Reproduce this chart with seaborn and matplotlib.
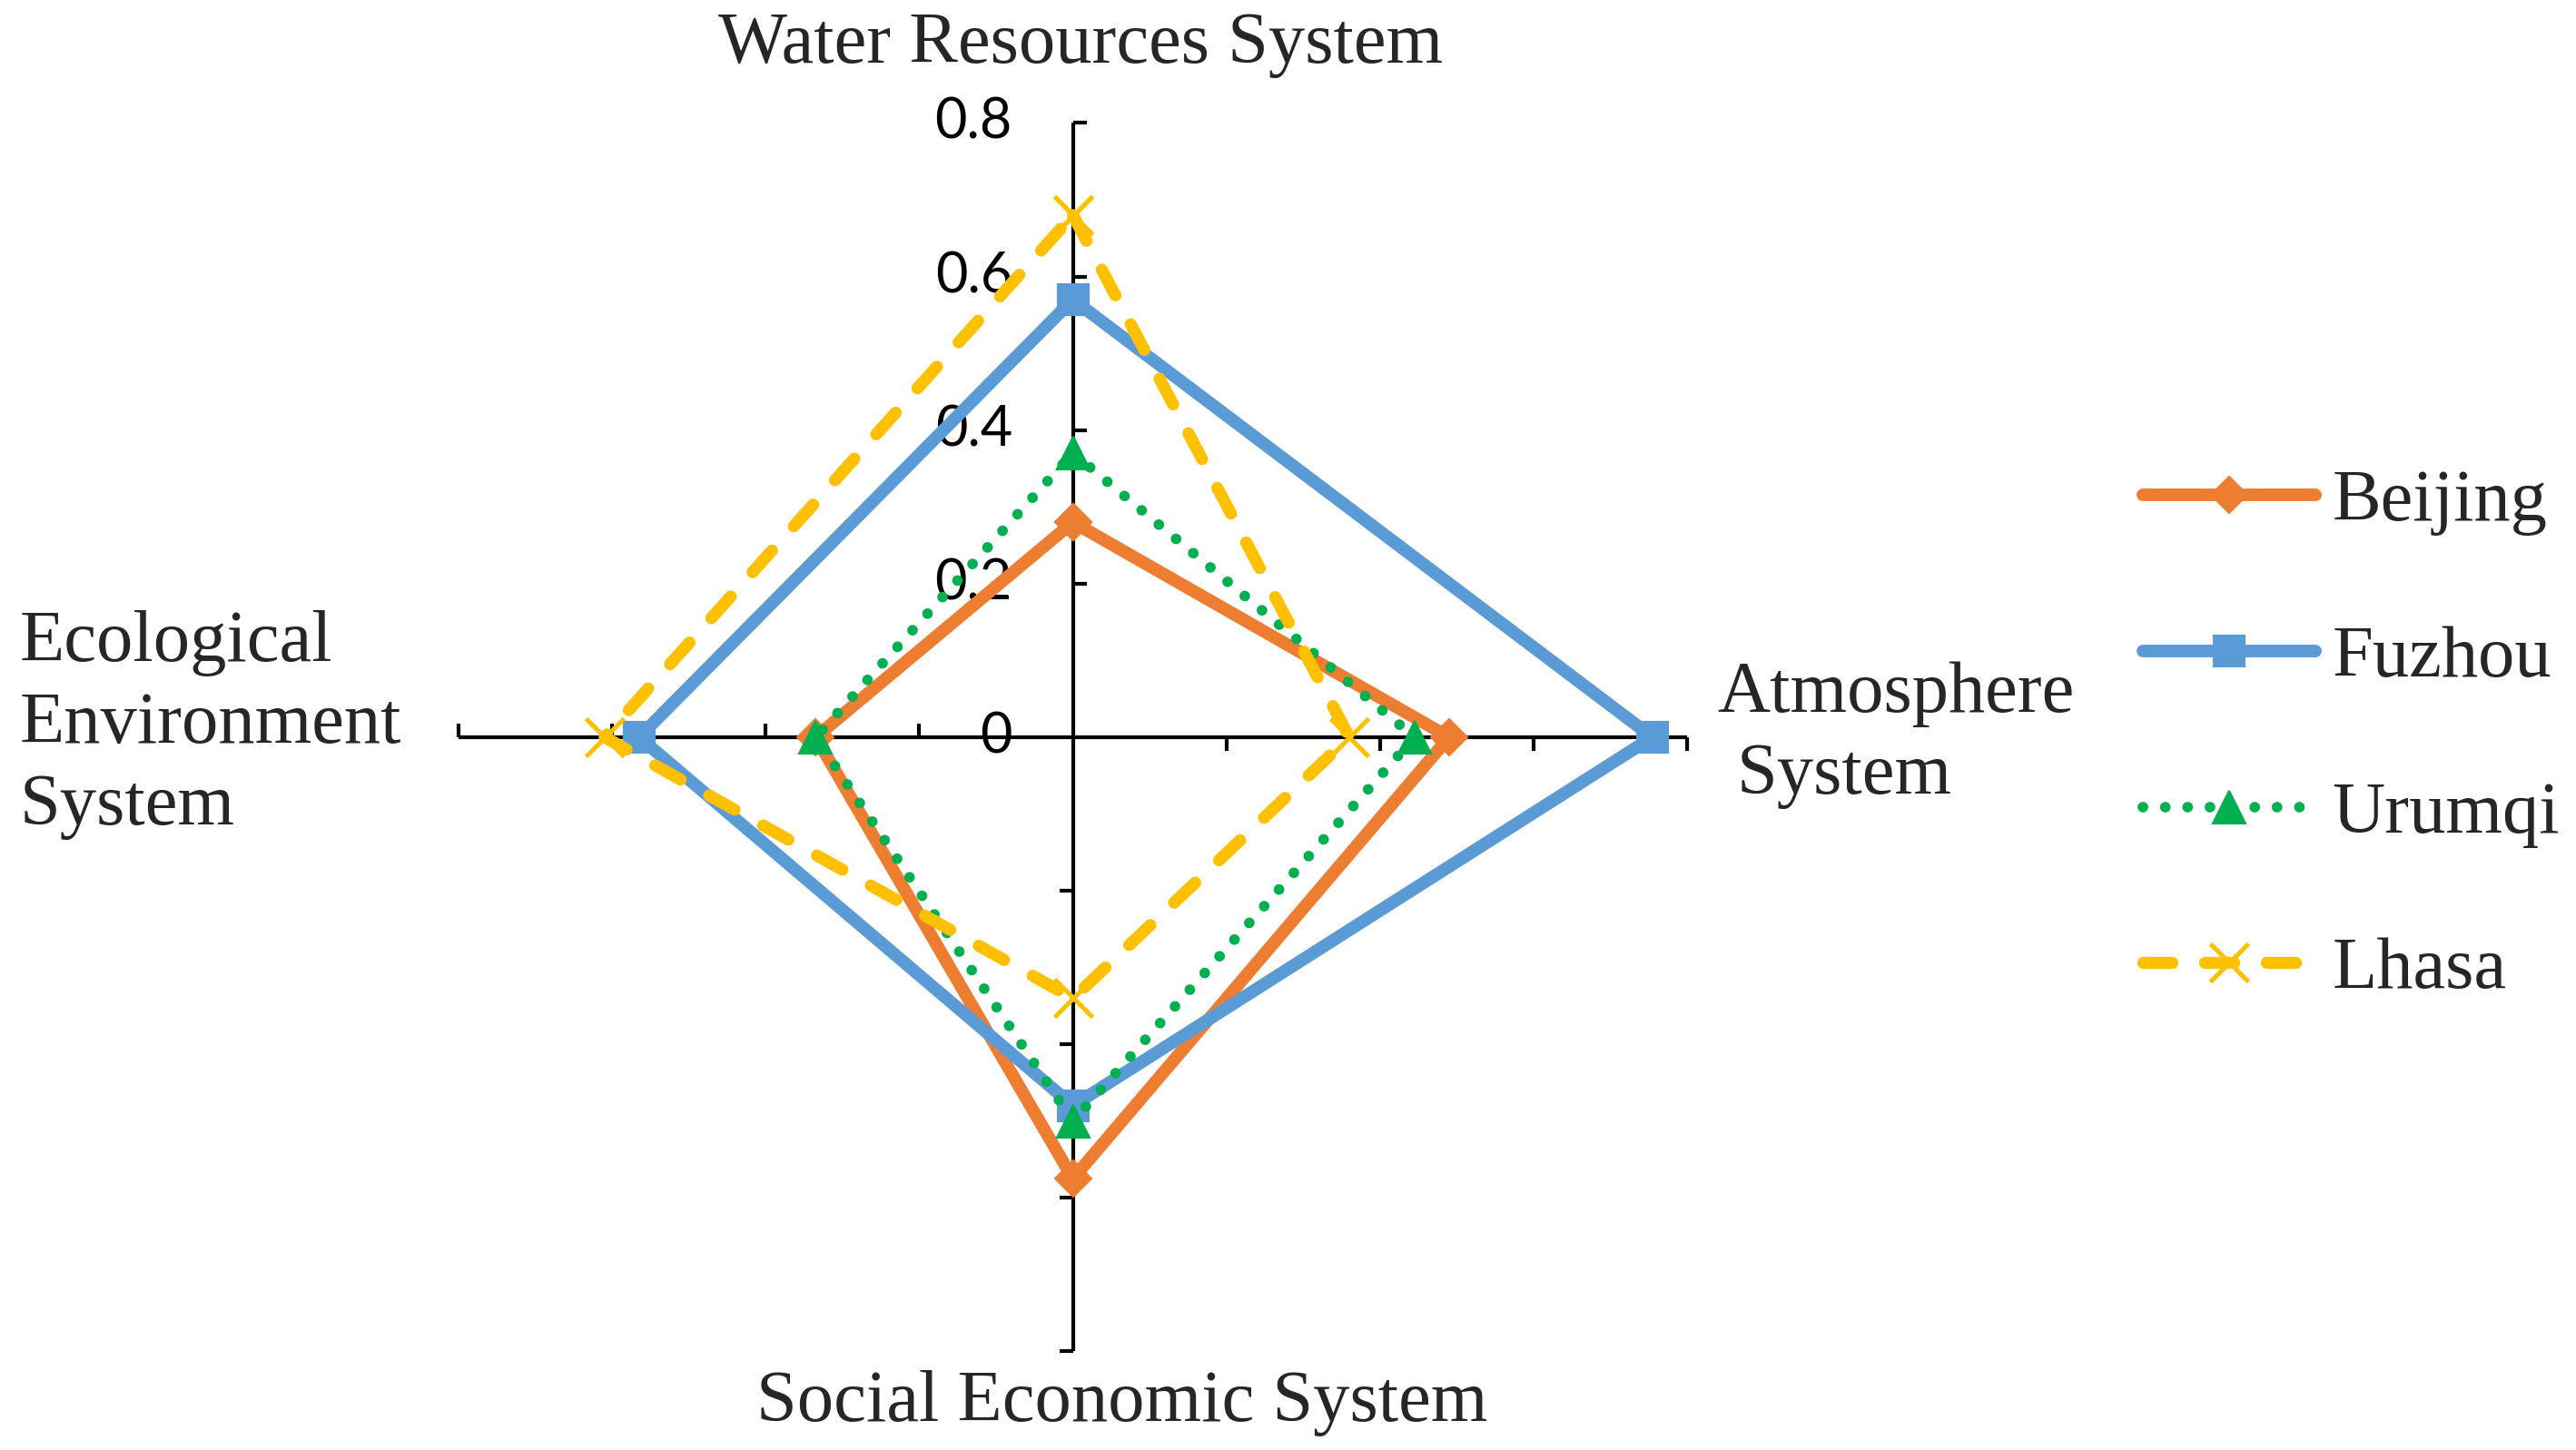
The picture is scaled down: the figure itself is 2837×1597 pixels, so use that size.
"""Radar chart of four subsystem scores for four cities."""

import matplotlib.pyplot as plt
import numpy as np
import seaborn as sns
from matplotlib.path import Path

# axes, clockwise from the top
systems = [
    "Water Resources System",
    "Atmosphere System",
    "Social Economic System",
    "Ecological Environment System",
]
cities = ["Beijing", "Fuzhou", "Urumqi", "Lhasa"]

beijing = [0.28, 0.49, 0.575, 0.335]
fuzhou = [0.57, 0.755, 0.48, 0.565]
urumqi = [0.37, 0.445, 0.50, 0.335]
lhasa = [0.68, 0.36, 0.34, 0.61]

r_ticks = [0, 0.2, 0.4, 0.6, 0.8]
r_tick_labels = ["0", "0.2", "0.4", "0.6", "0.8"]

colors = ["#ED7D31", "#5B9BD5", "#00B050", "#FFC000"]
markers = ["D", "s", "^", "x"]
marker_sizes = [10, 12, 13, 15]
line_styles = ["-", "-", (0, (0.01, 2.1)), (0, (2.4, 2.7))]
line_widths = [5.0, 5.0, 4.2, 4.8]

sns.set_theme(style="white")
serif = ["Liberation Serif", "DejaVu Serif"]

fig = plt.figure(figsize=(14.185, 7.985), dpi=200)
ax = fig.add_axes([0.178, 0.068, 0.477, 0.8472], projection="polar")
ax.set_theta_zero_location("N")
ax.set_theta_direction(-1)
ax.set_ylim(0, 0.8)
ax.grid(False)
ax.spines["polar"].set_visible(False)
ax.set_xticks([])
ax.set_yticks([])
ax.patch.set_alpha(0)

angles = np.linspace(0, 2 * np.pi, len(systems), endpoint=False)

# cross-shaped axes with one-sided tick marks (turning clockwise)
tick_dirs = [[(0, 0), (1, 0)], [(0, 0), (0, -1)], [(0, 0), (-1, 0)], [(0, 0), (0, 1)]]
for angle, tick_dir in zip(angles, tick_dirs):
    ax.plot([angle, angle], [0, r_ticks[-1]], color="black", lw=1.5, zorder=1,
            solid_capstyle="butt", clip_on=False)
    ax.plot(np.full(len(r_ticks) - 1, angle), r_ticks[1:], linestyle="none",
            marker=Path(tick_dir), markersize=10.5, markeredgewidth=1.5,
            color="black", zorder=1, clip_on=False)

for r, text in zip(r_ticks, r_tick_labels):
    ax.annotate(text, xy=(0, r), xytext=(-24, 0), textcoords="offset points",
                ha="right", va="center", fontsize=22, family="Lato",
                color="black", zorder=0, annotation_clip=False)

series = [beijing, fuzhou, urumqi, lhasa]
closed_angles = np.append(angles, 2 * np.pi)
for name, values, color, marker, ms, ls, lw in zip(
    cities, series, colors, markers, marker_sizes, line_styles, line_widths
):
    sns.lineplot(
        x=closed_angles,
        y=values + values[:1],
        sort=False,
        errorbar=None,
        ax=ax,
        color=color,
        linestyle=ls,
        linewidth=lw,
        marker=marker,
        markersize=ms,
        markeredgecolor=color,
        markeredgewidth=1.8 if marker == "x" else 0.75,
        solid_capstyle="round",
        dash_capstyle="round",
        solid_joinstyle="miter",
        label=name,
        zorder=3,
        clip_on=False,
    )
ax.set_xlabel("")
ax.set_ylabel("")

fig.text(0.4196, 0.969, systems[0], ha="center", va="center", fontsize=29, family=serif)
fig.text(0.6665, 0.521, "Atmosphere", ha="left", va="center", fontsize=29, family=serif)
fig.text(0.6742, 0.465, "System", ha="left", va="center", fontsize=29, family=serif)
fig.text(0.4356, 0.032, systems[2], ha="center", va="center", fontsize=29, family=serif)
fig.text(0.0077, 0.500, "Ecological\nEnvironment\nSystem", ha="left", va="center",
         fontsize=29, family=serif, linespacing=1.3)

handles, labels = ax.get_legend_handles_labels()
ax.legend(
    handles,
    labels,
    loc="center left",
    bbox_to_anchor=(0.832, 0.492),
    bbox_transform=fig.transFigure,
    frameon=False,
    borderpad=0,
    borderaxespad=0,
    handlelength=2.36,
    handletextpad=0.22,
    labelspacing=1.22,
    prop={"family": serif, "size": 29},
)

fig.savefig("out.png", dpi=200, facecolor="white")
